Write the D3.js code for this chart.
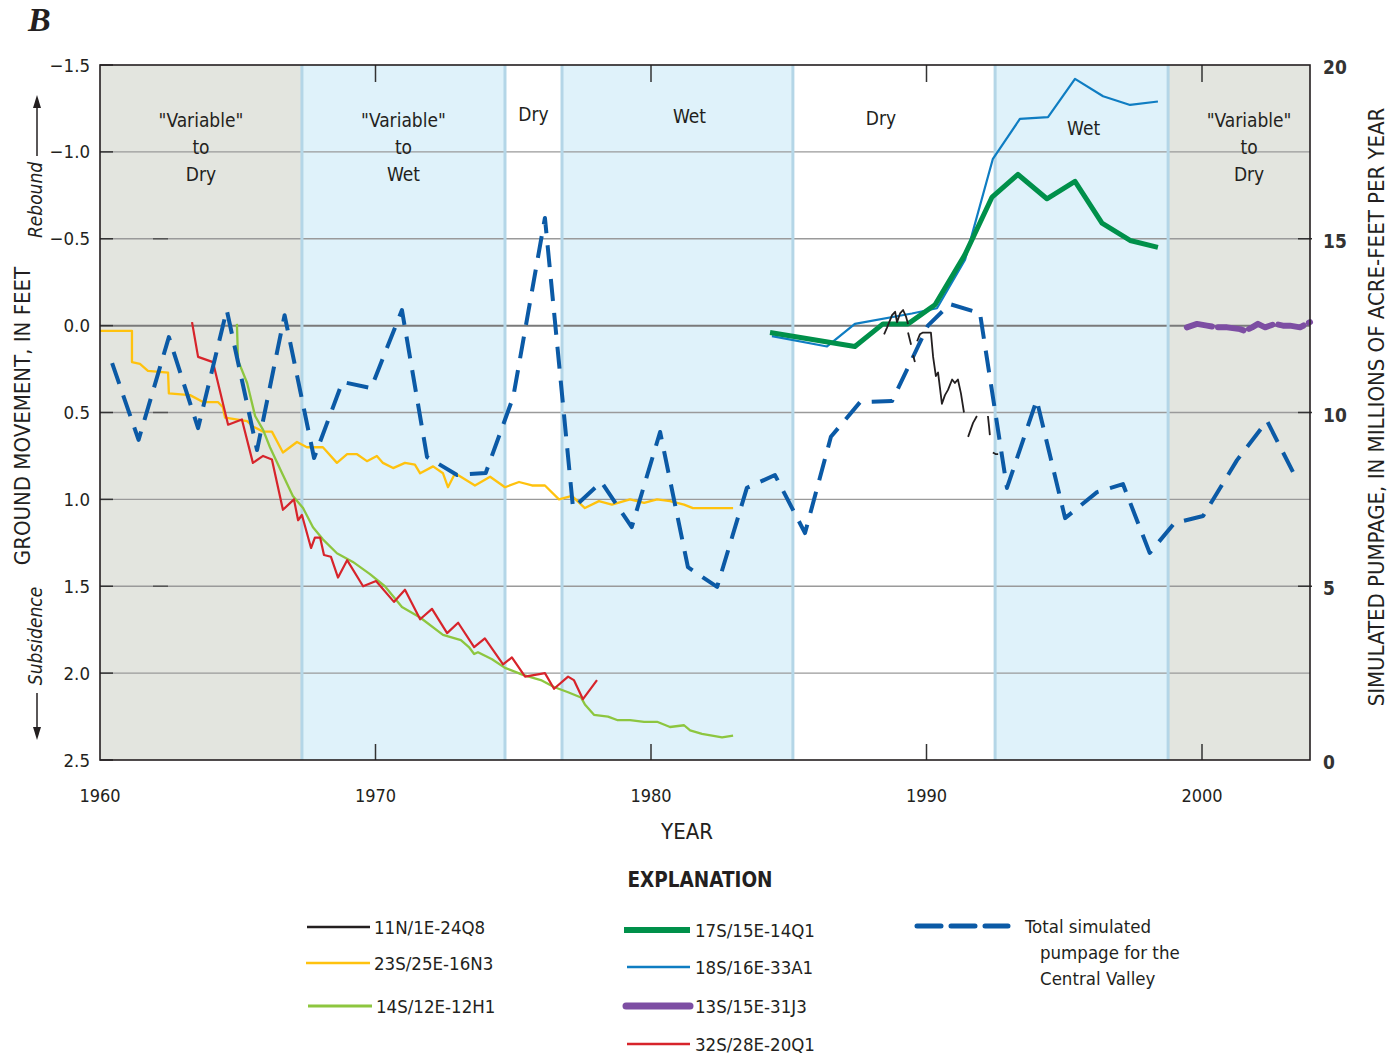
<!DOCTYPE html>
<html><head><meta charset="utf-8">
<script src="https://cdn.jsdelivr.net/npm/d3@7"></script>
<style>
body{margin:0;background:#fff}
svg{display:block}
text{font-family:"Liberation Sans Narrow","Arial Narrow","DejaVu Sans Condensed",sans-serif;fill:#231f20}
</style>
</head><body>
<svg id="c" width="1400" height="1057"></svg>
<script>
// ---------------- DATA ----------------
const yearTicks = [1960, 1970, 1980, 1990, 2000];
const leftTicks = [-1.5, -1.0, -0.5, 0.0, 0.5, 1.0, 1.5, 2.0, 2.5];
const rightTicks = [0, 5, 10, 15, 20];
const periodBounds = [1960, 1967.33, 1974.7, 1976.77, 1985.15, 1992.49, 1998.77, 2003.92];
const periodKinds = ["gray", "blue", "white", "blue", "white", "blue", "gray"];
const periodLabels = [['"Variable"', 'to', 'Dry'], ['"Variable"', 'to', 'Wet'], ['Dry'], ['Wet'], ['Dry'], ['Wet'], ['"Variable"', 'to', 'Dry']];

// Total simulated pumpage (millions of acre-feet per year)
const pumpYears = [1960.44, 1961.4, 1962.5, 1963.56, 1964.6, 1965.7, 1966.7, 1967.77, 1968.8, 1969.84, 1970.96, 1971.87, 1972.96, 1974.0, 1975.0, 1976.15, 1977.17, 1978.2, 1979.3, 1980.33, 1981.34, 1982.4, 1983.48, 1984.5, 1985.59, 1986.53, 1987.59, 1988.75, 1990.05, 1990.85, 1991.94, 1992.92, 1994.0, 1995.03, 1996.19, 1997.13, 1998.1, 1999.0, 2000.04, 2001.27, 2002.36, 2003.3];
const pumpValues = [11.42, 9.21, 12.17, 9.55, 12.95, 8.92, 12.8, 8.69, 10.88, 10.7, 12.95, 8.72, 8.2, 8.26, 10.45, 15.6, 7.25, 8.0, 6.7, 9.44, 5.55, 4.98, 7.83, 8.2, 6.53, 9.3, 10.3, 10.33, 12.5, 13.12, 12.86, 7.83, 10.36, 6.96, 7.71, 7.94, 5.96, 6.82, 7.02, 8.63, 9.76, 8.29];

// Ground movement (feet; positive = subsidence)
const w23S25E = [[1960.0,0.03],[1961.16,0.03],[1961.16,0.21],[1961.45,0.22],[1961.74,0.26],[1962.47,0.27],[1962.5,0.39],[1963.27,0.40],[1963.74,0.44],[1964.28,0.44],[1964.46,0.47],[1964.54,0.53],[1965.34,0.55],[1965.55,0.58],[1965.92,0.61],[1966.24,0.61],[1966.64,0.73],[1967.15,0.67],[1967.51,0.70],[1968.09,0.70],[1968.6,0.79],[1968.97,0.74],[1969.33,0.74],[1969.69,0.78],[1970.05,0.75],[1970.27,0.79],[1970.64,0.82],[1971.07,0.79],[1971.43,0.80],[1971.62,0.85],[1972.09,0.81],[1972.45,0.85],[1972.63,0.93],[1972.89,0.85],[1973.61,0.92],[1974.16,0.87],[1974.7,0.93],[1975.21,0.90],[1975.68,0.92],[1976.15,0.92],[1976.66,1.00],[1977.13,0.98],[1977.6,1.05],[1978.11,1.01],[1978.58,1.03],[1979.24,1.00],[1979.75,1.02],[1980.22,1.00],[1980.69,1.01],[1981.2,1.03],[1981.52,1.05],[1982.98,1.05]];
const w14S12E = [[1964.97,-0.01],[1965.01,0.20],[1965.34,0.33],[1965.63,0.52],[1965.92,0.60],[1966.17,0.70],[1966.61,0.85],[1967.0,0.98],[1967.37,1.05],[1967.73,1.16],[1968.09,1.23],[1968.6,1.31],[1969.18,1.36],[1969.8,1.43],[1970.34,1.50],[1970.96,1.62],[1971.62,1.68],[1972.45,1.78],[1973.1,1.81],[1973.39,1.85],[1973.58,1.89],[1973.72,1.88],[1974.23,1.92],[1974.7,1.97],[1975.35,2.01],[1976.0,2.04],[1976.48,2.08],[1976.99,2.11],[1977.46,2.14],[1977.6,2.18],[1977.93,2.24],[1978.44,2.25],[1978.77,2.27],[1979.24,2.27],[1979.75,2.28],[1980.22,2.28],[1980.69,2.31],[1981.2,2.30],[1981.42,2.33],[1981.85,2.35],[1982.58,2.37],[1982.98,2.36]];
const w32S28E = [[1963.34,-0.02],[1963.56,0.18],[1964.1,0.21],[1964.65,0.57],[1965.15,0.54],[1965.55,0.79],[1965.92,0.75],[1966.24,0.77],[1966.64,1.06],[1967.04,1.00],[1967.19,1.12],[1967.33,1.09],[1967.66,1.28],[1967.8,1.22],[1967.99,1.22],[1968.13,1.32],[1968.38,1.33],[1968.64,1.45],[1968.97,1.35],[1969.55,1.50],[1970.02,1.47],[1970.67,1.59],[1971.07,1.52],[1971.62,1.69],[1972.05,1.63],[1972.6,1.77],[1973.0,1.71],[1973.58,1.85],[1973.97,1.80],[1974.63,1.95],[1974.95,1.91],[1975.43,2.02],[1976.15,2.00],[1976.48,2.09],[1976.99,2.02],[1977.2,2.04],[1977.53,2.15],[1978.04,2.04]];
const w17S15E = [[1984.32,0.04],[1987.4,0.12],[1988.42,-0.01],[1989.33,-0.01],[1990.31,-0.12],[1991.4,-0.41],[1992.38,-0.74],[1993.32,-0.87],[1994.37,-0.73],[1995.39,-0.83],[1996.37,-0.59],[1997.39,-0.49],[1998.4,-0.45]];
const w18S16E = [[1984.39,0.06],[1986.39,0.12],[1987.4,-0.01],[1989.47,-0.07],[1990.38,-0.10],[1991.4,-0.38],[1992.41,-0.96],[1993.39,-1.19],[1994.41,-1.20],[1995.39,-1.42],[1996.41,-1.32],[1997.39,-1.27],[1998.4,-1.29]];
const w13S15E = [[1999.45,0.01],[1999.82,-0.01],[2000.18,0.00],[2000.54,0.01],[2000.91,0.01],[2001.38,0.02],[2001.56,0.03],[2001.82,0.01],[2002.03,-0.01],[2002.29,0.01],[2002.65,-0.01],[2002.94,0.0],[2003.19,0.0],[2003.56,0.01],[2003.92,-0.02]];
// 11N/1E-24Q8: null marks a break in the record
const w11N1E = [[1988.46,0.05],[1988.57,0.01],[1988.75,-0.06],[1988.86,-0.08],[1988.93,-0.02],[1989.04,-0.07],[1989.15,-0.09],[1989.26,-0.05],[1989.33,-0.01],null,
  [1989.33,0.04],[1989.44,0.11],null,[1989.51,0.17],[1989.58,0.21],null,
  [1989.66,0.09],[1989.76,0.05],[1989.87,0.04],[1990.05,0.04],[1990.16,0.04],[1990.24,0.18],[1990.34,0.29],[1990.42,0.27],[1990.56,0.45],[1990.67,0.40],[1990.78,0.37],[1990.93,0.31],[1991.03,0.33],[1991.14,0.31],[1991.25,0.39],[1991.36,0.50],null,
  [1991.51,0.64],[1991.69,0.56],[1991.83,0.52],null,[1992.23,0.52],[1992.27,0.58],[1992.3,0.63],null,[1992.41,0.73],[1992.52,0.74],[1992.6,0.74]];

const seriesNames = ["11N/1E-24Q8", "23S/25E-16N3", "14S/12E-12H1", "17S/15E-14Q1", "18S/16E-33A1", "13S/15E-31J3", "32S/28E-20Q1"];

// ---------------- DRAW ----------------
const svg = d3.select("#c");
const L = 100, R = 1310, T = 65, B = 760;
const x = d3.scaleLinear().domain([1960, 2003.92]).range([L, R]);
const yL = d3.scaleLinear().domain([-1.5, 2.5]).range([T, B]);
const yR = d3.scaleLinear().domain([20, 0]).range([T, B]);

const colors = {
  "11N/1E-24Q8": "#231f20", "23S/25E-16N3": "#ffc20e", "14S/12E-12H1": "#8dc63f",
  "17S/15E-14Q1": "#00904a", "18S/16E-33A1": "#0f7dc2", "13S/15E-31J3": "#7d4ea3",
  "32S/28E-20Q1": "#d7242b", pump: "#0b5aa6"
};
const widths = {
  "11N/1E-24Q8": 1.8, "23S/25E-16N3": 2.3, "14S/12E-12H1": 2.3, "17S/15E-14Q1": 5,
  "18S/16E-33A1": 2.2, "13S/15E-31J3": 6, "32S/28E-20Q1": 2.2
};
const bandFill = { gray: "#e3e5df", blue: "#dff2fa", white: "#ffffff" };

// bands
const bands = periodKinds.map((k, i) => ({ k, a: periodBounds[i], b: periodBounds[i + 1], lab: periodLabels[i] }));
svg.append("g").selectAll("rect").data(bands).join("rect")
  .attr("x", d => x(d.a)).attr("y", T).attr("width", d => x(d.b) - x(d.a)).attr("height", B - T)
  .attr("fill", d => bandFill[d.k]);

// grid
svg.append("g").selectAll("line").data(leftTicks.filter(v => v > -1.5 && v < 2.5)).join("line")
  .attr("x1", L).attr("x2", R).attr("y1", d => yL(d)).attr("y2", d => yL(d))
  .attr("stroke", d => d === 0 ? "#7a7a7a" : "#9a9a9a").attr("stroke-width", d => d === 0 ? 2 : 1.4);

// band edges
const edges = [];
bands.forEach(d => { if (d.k === "blue") { edges.push(d.a, d.b); } });
svg.append("g").selectAll("line").data(edges).join("line")
  .attr("x1", d => x(d)).attr("x2", d => x(d)).attr("y1", T).attr("y2", B)
  .attr("stroke", "#b4d6e7").attr("stroke-width", 3);

// band labels
const labDx = [0, 0, 0, 12, -13, 2, 10];
const labY0 = [120, 120, 114, 116, 118, 128, 120];
bands.forEach((d, i) => {
  const cx = (x(d.a) + x(d.b)) / 2 + labDx[i];
  d.lab.forEach((t, j) => {
    svg.append("text").attr("x", cx).attr("y", labY0[i] + j * 27).attr("text-anchor", "middle")
      .attr("dominant-baseline", "central").attr("font-size", 19).text(t);
  });
});

// ticks
const tg = svg.append("g").attr("stroke", "#333").attr("stroke-width", 1.5);
yearTicks.filter(v => v > 1960).forEach(v => {
  tg.append("line").attr("x1", x(v)).attr("x2", x(v)).attr("y1", T).attr("y2", T + 17);
  tg.append("line").attr("x1", x(v)).attr("x2", x(v)).attr("y1", B - 16).attr("y2", B);
});
leftTicks.forEach(v => tg.append("line").attr("x1", L).attr("x2", L + 13).attr("y1", yL(v)).attr("y2", yL(v)));
rightTicks.filter(v => v > 0 && v < 20).forEach(v => {
  tg.append("line").attr("x1", R - 12).attr("x2", R + 2).attr("y1", yR(v)).attr("y2", yR(v));
  tg.append("line").attr("x1", L + 53).attr("x2", L + 68).attr("y1", yR(v)).attr("y2", yR(v)).attr("stroke", "#555");
});

// series
const lineL = d3.line().defined(d => d !== null).x(d => x(d[0])).y(d => yL(d[1]));
function drawWell(name, data, extra) {
  const p = svg.append("path").datum(data).attr("d", lineL).attr("fill", "none")
    .attr("stroke", colors[name]).attr("stroke-width", widths[name]).attr("stroke-linejoin", "round");
  if (extra) extra(p);
}
drawWell("23S/25E-16N3", w23S25E);
drawWell("14S/12E-12H1", w14S12E);
drawWell("32S/28E-20Q1", w32S28E);

const pumpData = pumpYears.map((yv, i) => [yv, pumpValues[i]]);
svg.append("path").datum(pumpData)
  .attr("d", d3.line().x(d => x(d[0])).y(d => yR(d[1])))
  .attr("fill", "none").attr("stroke", colors.pump).attr("stroke-width", 4)
  .attr("stroke-dasharray", "22,12").attr("stroke-linejoin", "round");

drawWell("18S/16E-33A1", w18S16E);
drawWell("17S/15E-14Q1", w17S15E);
drawWell("11N/1E-24Q8", w11N1E);
drawWell("13S/15E-31J3", w13S15E, p => p.attr("stroke-linecap", "round").attr("stroke-dasharray", "26,6"));

// frame
svg.append("rect").attr("x", L).attr("y", T).attr("width", R - L).attr("height", B - T)
  .attr("fill", "none").attr("stroke", "#231f20").attr("stroke-width", 1.6);

// axis labels
const fmtL = v => (v < 0 ? "\u2212" : "") + Math.abs(v).toFixed(1);
svg.append("g").selectAll("text").data(leftTicks).join("text")
  .attr("x", 90).attr("y", d => yL(d)).attr("text-anchor", "end").attr("dominant-baseline", "central")
  .attr("font-size", 18.5).text(fmtL);
svg.append("g").selectAll("text").data(rightTicks).join("text")
  .attr("x", 1323).attr("y", d => yR(d) + 2).attr("text-anchor", "start").attr("dominant-baseline", "central")
  .attr("font-size", 19).attr("font-weight", "bold").style("fill", "#333").text(d => d);
svg.append("g").selectAll("text").data(yearTicks).join("text")
  .attr("x", d => x(d)).attr("y", 795).attr("text-anchor", "middle").attr("dominant-baseline", "central")
  .attr("font-size", 18).text(d => d);

svg.append("text").attr("x", 687).attr("y", 831).attr("text-anchor", "middle").attr("dominant-baseline", "central")
  .attr("font-size", 22).text("YEAR");
svg.append("text").attr("transform", "translate(22,416) rotate(-90)").attr("text-anchor", "middle")
  .attr("dominant-baseline", "central").attr("font-size", 22).text("GROUND MOVEMENT, IN FEET");
svg.append("text").attr("transform", "translate(1376,407) rotate(-90)").attr("text-anchor", "middle")
  .attr("dominant-baseline", "central").attr("font-size", 22).text("SIMULATED PUMPAGE, IN MILLIONS OF ACRE-FEET PER YEAR");
svg.append("text").attr("transform", "translate(35,200) rotate(-90)").attr("text-anchor", "middle")
  .attr("dominant-baseline", "central").attr("font-size", 19).attr("font-style", "italic").text("Rebound");
svg.append("text").attr("transform", "translate(35,636) rotate(-90)").attr("text-anchor", "middle")
  .attr("dominant-baseline", "central").attr("font-size", 19).attr("font-style", "italic").text("Subsidence");
// arrows
const ag = svg.append("g");
ag.append("line").attr("x1", 37).attr("x2", 37).attr("y1", 156).attr("y2", 104).attr("stroke", "#231f20").attr("stroke-width", 1.5);
ag.append("path").attr("d", "M37,95 L33,108 L41,108 Z").attr("fill", "#231f20");
ag.append("line").attr("x1", 37).attr("x2", 37).attr("y1", 693).attr("y2", 730).attr("stroke", "#231f20").attr("stroke-width", 1.5);
ag.append("path").attr("d", "M37,740 L33,727 L41,727 Z").attr("fill", "#231f20");

// panel letter
svg.append("text").attr("x", 28).attr("y", 31).attr("font-size", 34).attr("font-weight", "bold")
  .attr("font-style", "italic").style("font-family", "'Liberation Serif','DejaVu Serif',serif").text("B");

// legend
svg.append("text").attr("x", 700).attr("y", 880).attr("text-anchor", "middle").attr("dominant-baseline", "central")
  .attr("font-size", 20.5).attr("font-weight", "bold").text("EXPLANATION");
const legPos = {
  "11N/1E-24Q8": [307, 370, 927, 374], "23S/25E-16N3": [306, 370, 963, 374], "14S/12E-12H1": [308, 372, 1006, 376],
  "17S/15E-14Q1": [624, 690, 930, 695], "18S/16E-33A1": [627, 690, 967, 695], "13S/15E-31J3": [626, 690, 1006, 695],
  "32S/28E-20Q1": [627, 690, 1044, 695]
};
const legW = { "11N/1E-24Q8": 2.5, "23S/25E-16N3": 2.5, "14S/12E-12H1": 3, "17S/15E-14Q1": 6, "18S/16E-33A1": 2.5, "13S/15E-31J3": 7, "32S/28E-20Q1": 2.5 };
seriesNames.forEach(n => {
  const [a, b, yy, tx] = legPos[n];
  svg.append("line").attr("x1", a).attr("x2", b).attr("y1", yy).attr("y2", yy).attr("stroke", colors[n])
    .attr("stroke-width", legW[n]).attr("stroke-linecap", n === "13S/15E-31J3" ? "round" : "butt");
  svg.append("text").attr("x", tx).attr("y", yy).attr("dominant-baseline", "central").attr("font-size", 18.5).text(n);
});
svg.append("line").attr("x1", 917).attr("x2", 1008).attr("y1", 926).attr("y2", 926).attr("stroke", colors.pump)
  .attr("stroke-width", 5).attr("stroke-dasharray", "24,10").attr("stroke-linecap", "round");
[["Total simulated", 1025, 926], ["pumpage for the", 1040, 952], ["Central Valley", 1040, 978]].forEach(([t, tx, ty]) =>
  svg.append("text").attr("x", tx).attr("y", ty).attr("dominant-baseline", "central").attr("font-size", 18.5).text(t));
</script>
</body></html>
